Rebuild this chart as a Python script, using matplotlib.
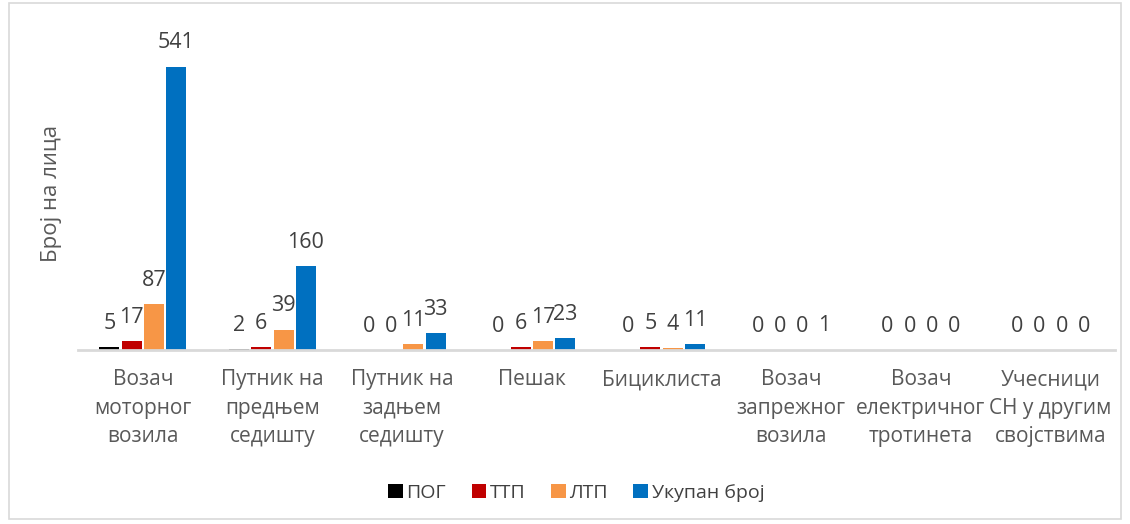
import numpy as np
import matplotlib.pyplot as plt
from matplotlib.patches import Rectangle

plt.rcParams['font.family'] = ['Open Sans', 'DejaVu Sans']

categories = ['Возач\nмоторног\nвозила', 'Путник на\nпредњем\nседишту',
              'Путник на\nзадњем\nседишту', 'Пешак', 'Бициклиста',
              'Возач\nзапрежног\nвозила', 'Возач\nелектричног\nтротинета',
              'Учесници\nСН у другим\nсвојствима']
series_names = ['ПОГ', 'ТТП', 'ЛТП', 'Укупан број']
pog = [5, 2, 0, 0, 0, 0, 0, 0]
ttp = [17, 6, 0, 6, 5, 0, 0, 0]
ltp = [87, 39, 11, 17, 4, 0, 0, 0]
ukupno = [541, 160, 33, 23, 11, 1, 0, 0]

colors = ['#000000', '#C00000', '#F79646', '#0070C0']
text_color = '#404040'

fig = plt.figure(figsize=(11.3, 5.24), dpi=100)
ax = fig.add_axes([0.069, 0.332, 0.918, 0.63])

x = np.arange(len(categories))
width = 0.155
step = 0.172
for i, (vals, name, col) in enumerate(zip([pog, ttp, ltp, ukupno], series_names, colors)):
    pos = x + (i - 1.5) * step
    ax.bar(pos, vals, width, color=col, label=name)
    for p, v in zip(pos, vals):
        ax.annotate(str(v), (p, v), xytext=(0, 17), textcoords='offset points',
                    ha='center', va='center', fontsize=15.5, color=text_color)

ax.set_xlim(-0.5, len(categories) - 0.5)
ax.set_ylim(0, 630)
ax.set_yticks([])
for s in ['top', 'right', 'left']:
    ax.spines[s].set_visible(False)
ax.spines['bottom'].set_color('#d9d9d9')
ax.spines['bottom'].set_linewidth(2)
ax.set_xticks(x)
ax.set_xticklabels(categories, fontsize=15, color='#595959', linespacing=1.45)
ax.tick_params(axis='x', length=0, pad=14)
ax.set_ylabel('Број на лица', fontsize=16, color='#595959')
ax.yaxis.set_label_coords(-0.015, 0.475)

ax.legend(loc='center', bbox_to_anchor=(0.51, 0.06), bbox_transform=fig.transFigure,
          ncol=4, frameon=False, fontsize=14, handlelength=0.75, handleheight=0.75,
          handletextpad=0.2, columnspacing=1.3, labelcolor=text_color)

fig.patches.append(Rectangle((0.008, 0.01), 0.984, 0.985, transform=fig.transFigure,
                             fill=False, edgecolor='#d9d9d9', linewidth=1.2))

fig.savefig('out.png', dpi=100)
